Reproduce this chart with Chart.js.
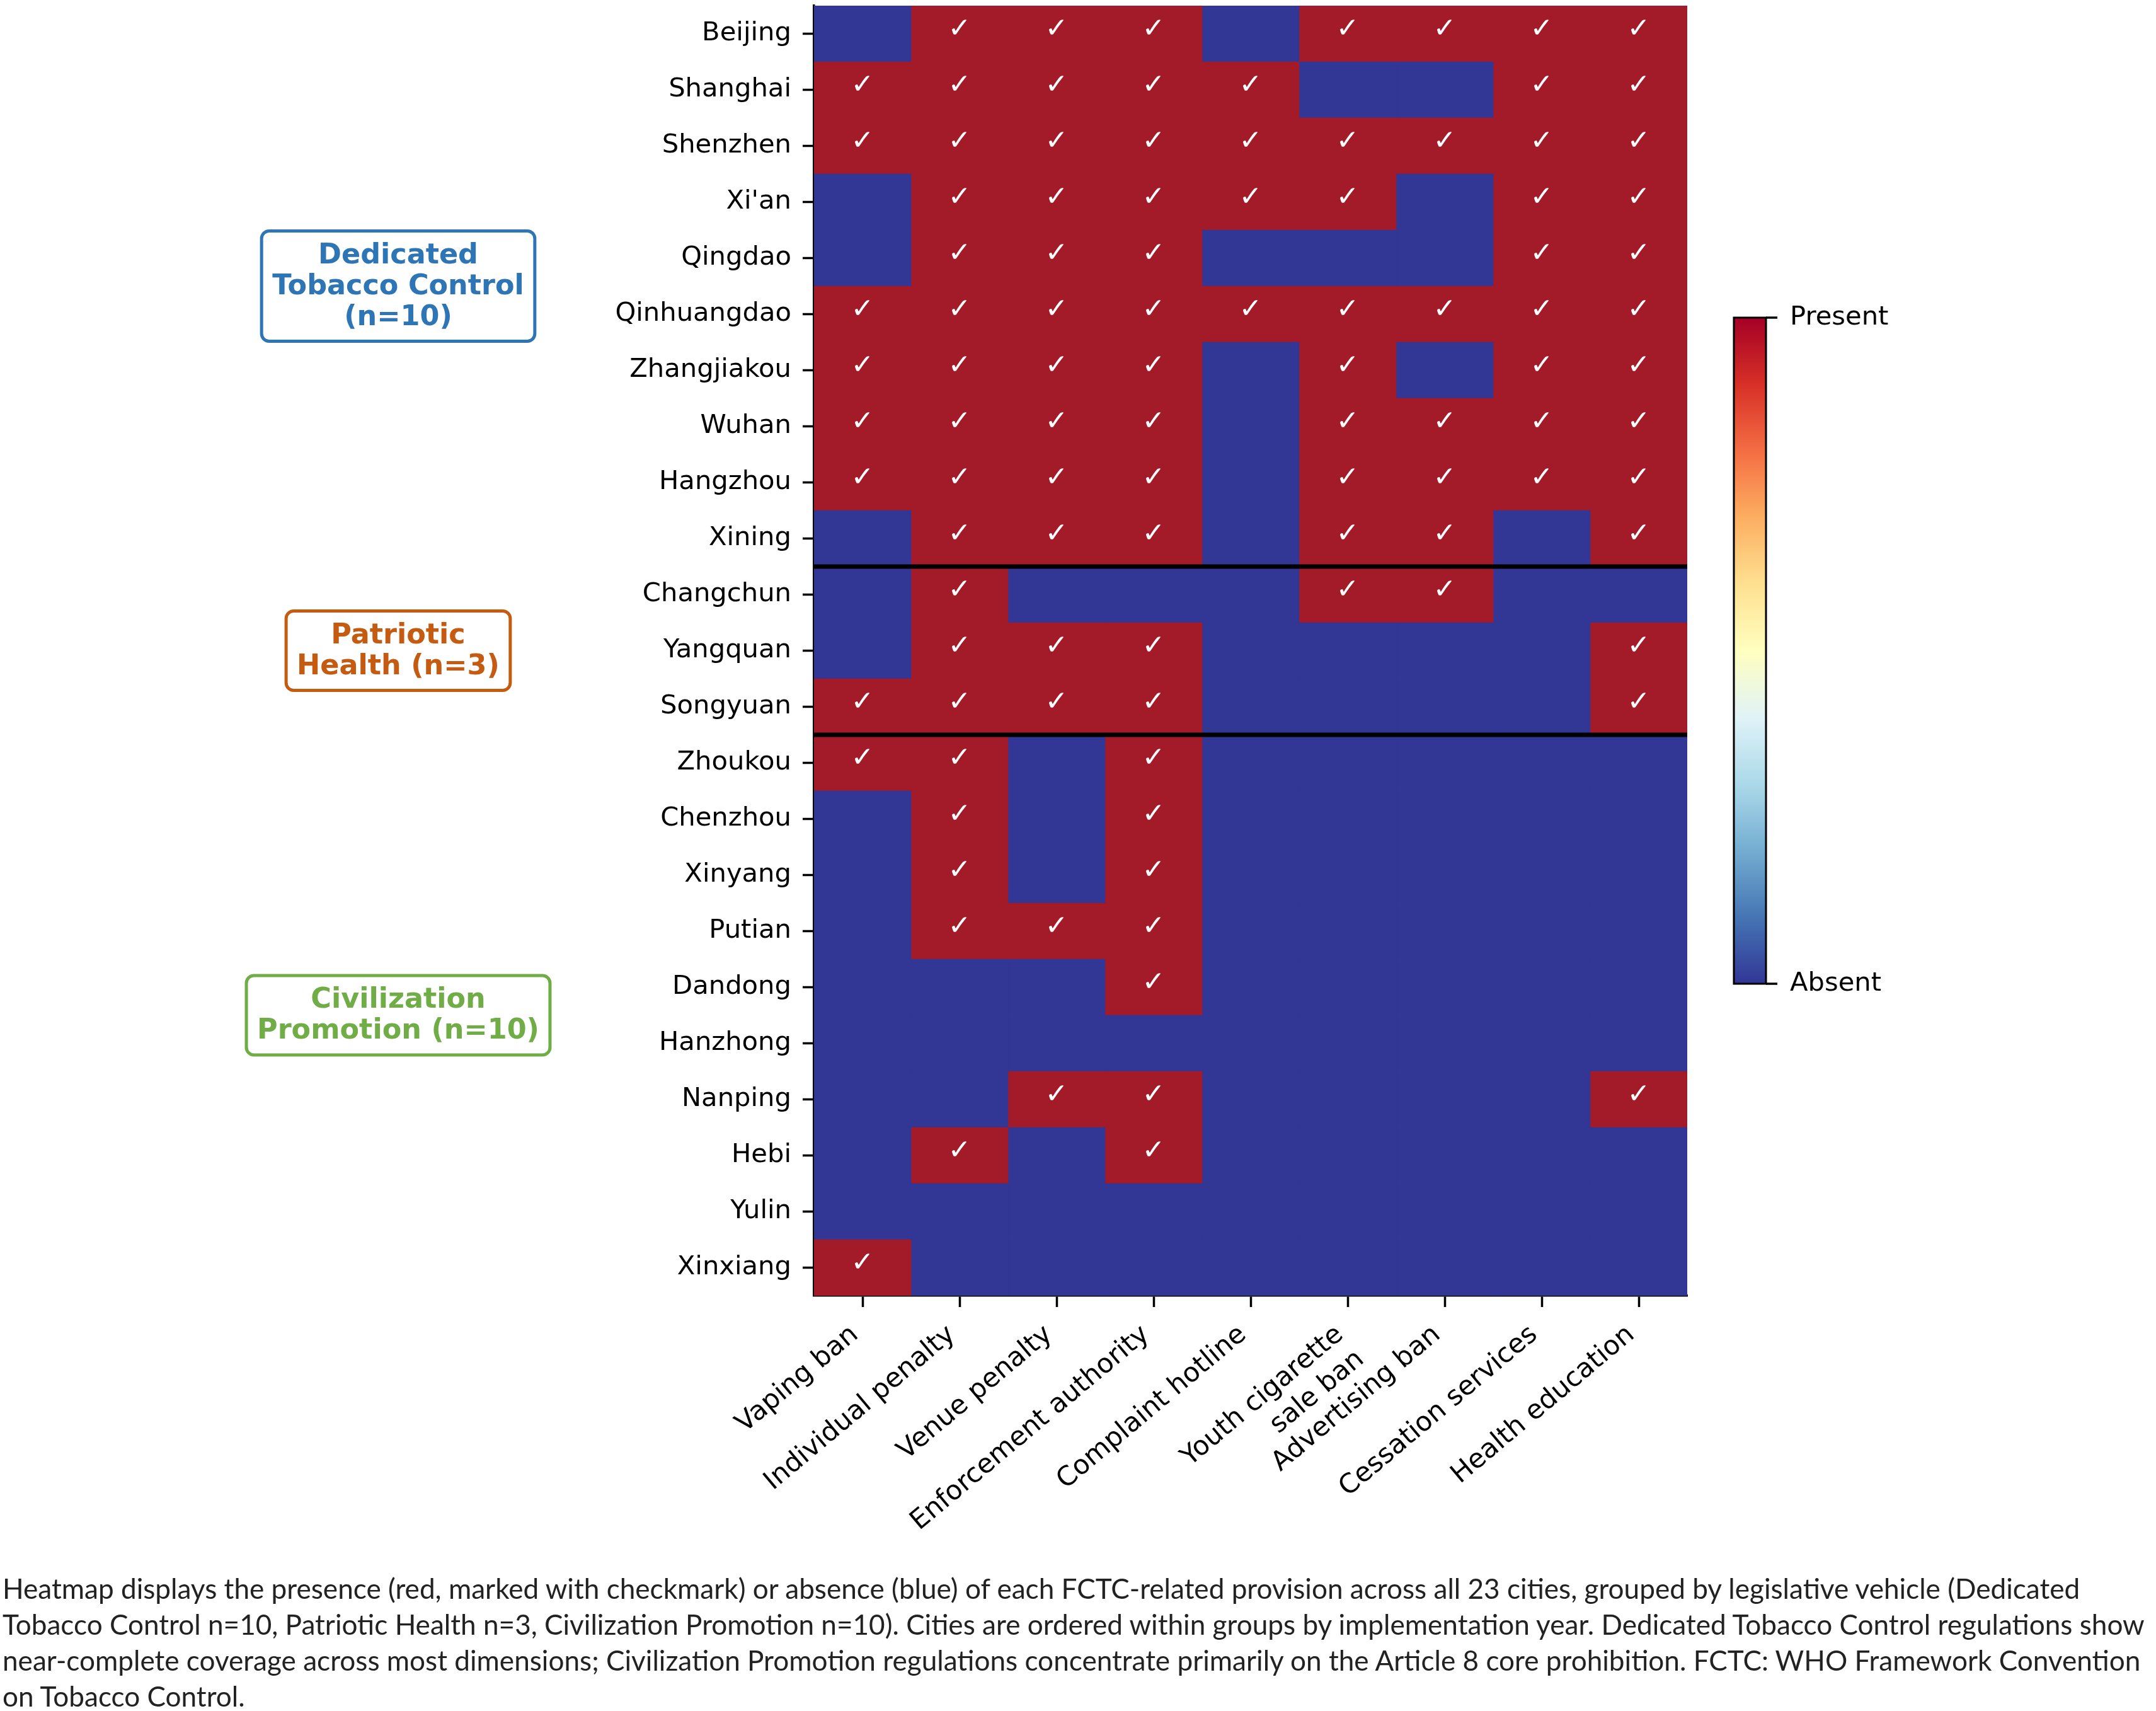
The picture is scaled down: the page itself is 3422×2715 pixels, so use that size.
<!DOCTYPE html>
<html><head><meta charset="utf-8">
<script src="https://cdn.jsdelivr.net/npm/chart.js@4.4.1/dist/chart.umd.min.js"></script>
<style>
html,body{margin:0;padding:0;background:#fff;}
#wrap{position:relative;width:3422px;height:2715px;overflow:hidden;background:#fff;}
#c{position:absolute;left:0;top:0;}
#caption{position:absolute;left:4px;top:2491px;font-family:Lato,"Noto Sans",sans-serif;color:#222;white-space:nowrap;line-height:57px;}
</style></head><body>
<div id="wrap"><canvas id="c" width="3422" height="2715"></canvas><div id="caption"></div></div>
<script>
// ---------- data ----------
const features = ['Vaping ban','Individual penalty','Venue penalty','Enforcement authority','Complaint hotline','Youth cigarette sale ban','Advertising ban','Cessation services','Health education'];
const featureLabels = ['Vaping ban','Individual penalty','Venue penalty','Enforcement authority','Complaint hotline',['Youth cigarette','sale ban'],'Advertising ban','Cessation services','Health education'];
const cities = ['Beijing','Shanghai','Shenzhen',"Xi'an",'Qingdao','Qinhuangdao','Zhangjiakou','Wuhan','Hangzhou','Xining','Changchun','Yangquan','Songyuan','Zhoukou','Chenzhou','Xinyang','Putian','Dandong','Hanzhong','Nanping','Hebi','Yulin','Xinxiang'];
// 1 = present, 0 = absent (one value per city, same order as cities)
const vapingBan            = [0,1,1,0,0,1,1,1,1,0, 0,0,1, 1,0,0,0,0,0,0,0,0,1];
const individualPenalty    = [1,1,1,1,1,1,1,1,1,1, 1,1,1, 1,1,1,1,0,0,0,1,0,0];
const venuePenalty         = [1,1,1,1,1,1,1,1,1,1, 0,1,1, 0,0,0,1,0,0,1,0,0,0];
const enforcementAuthority = [1,1,1,1,1,1,1,1,1,1, 0,1,1, 1,1,1,1,1,0,1,1,0,0];
const complaintHotline     = [0,1,1,1,0,1,0,0,0,0, 0,0,0, 0,0,0,0,0,0,0,0,0,0];
const youthSaleBan         = [1,0,1,1,0,1,1,1,1,1, 1,0,0, 0,0,0,0,0,0,0,0,0,0];
const advertisingBan       = [1,0,1,0,0,1,0,1,1,1, 1,0,0, 0,0,0,0,0,0,0,0,0,0];
const cessationServices    = [1,1,1,1,1,1,1,1,1,0, 0,0,0, 0,0,0,0,0,0,0,0,0,0];
const healthEducation      = [1,1,1,1,1,1,1,1,1,1, 0,1,1, 0,0,0,0,0,0,1,0,0,0];
const presence = [vapingBan,individualPenalty,venuePenalty,enforcementAuthority,complaintHotline,youthSaleBan,advertisingBan,cessationServices,healthEducation];

const groupNames  = [['Dedicated','Tobacco Control','(n=10)'],['Patriotic','Health (n=3)'],['Civilization','Promotion (n=10)']];
const groupStarts = [0,10,13];
const groupEnds   = [9,12,22];
const groupColors = ['#2E75B6','#C55A11','#70AD47'];
const colorbarLabels = ['Present','Absent'];
const captionLines = [
 'Heatmap displays the presence (red, marked with checkmark) or absence (blue) of each FCTC-related provision across all 23 cities, grouped by legislative vehicle (Dedicated',
 'Tobacco Control n=10, Patriotic Health n=3, Civilization Promotion n=10). Cities are ordered within groups by implementation year. Dedicated Tobacco Control regulations show',
 'near-complete coverage across most dimensions; Civilization Promotion regulations concentrate primarily on the Article 8 core prohibition. FCTC: WHO Framework Convention',
 'on Tobacco Control.'
];

// ---------- styles ----------
const RED = '#a31b29', BLUE = '#323695';
const RdYlBu_r = ['#a50026','#d73027','#f46d43','#fdae61','#fee090','#ffffbf','#e0f3f8','#abd9e9','#74add1','#4575b4','#313695'];
const TICKFONT = {family:'DejaVu Sans', size:41.7};
const XTICKFONT = {family:'DejaVu Sans', size:42.5};

// caption
(function(){
  const cap = document.getElementById('caption');
  const m = document.createElement('canvas').getContext('2d');
  m.font = '100px Lato';
  const w = m.measureText(captionLines[0]).width;
  const fs = 100 * 3302 / w;
  cap.style.fontSize = fs.toFixed(2) + 'px';
  captionLines.forEach(l => { const d = document.createElement('div'); d.textContent = l; cap.appendChild(d); });
})();

const overlay = {
  id: 'overlay',
  afterDatasetsDraw(chart) {
    const ctx = chart.ctx, ys = chart.scales.y, area = chart.chartArea;
    ctx.save();
    ctx.fillStyle = '#ffffff';
    ctx.font = '44px "DejaVu Sans"';
    ctx.textAlign = 'center'; ctx.textBaseline = 'middle';
    chart.data.datasets.forEach((ds, j) => {
      chart.getDatasetMeta(j).data.forEach((el, i) => {
        if (presence[j][i]) { const p = el.getCenterPoint(); ctx.fillText('\u2713', p.x, p.y - 6); }
      });
    });
    ctx.strokeStyle = '#000'; ctx.lineWidth = 7;
    groupStarts.slice(1).forEach(b => {
      const py = (ys.getPixelForValue(b - 1) + ys.getPixelForValue(b)) / 2;
      ctx.beginPath(); ctx.moveTo(area.left, py); ctx.lineTo(area.right, py); ctx.stroke();
    });
    ctx.restore();
  },
  afterDraw(chart) {
    const ctx = chart.ctx, ys = chart.scales.y;
    ctx.save();
    // colorbar
    const cx0 = 2752, cx1 = 2803, cy0 = 504, cy1 = 1561;
    const g = ctx.createLinearGradient(0, cy0, 0, cy1);
    RdYlBu_r.forEach((c, k) => g.addColorStop(k / (RdYlBu_r.length - 1), c));
    ctx.fillStyle = g; ctx.fillRect(cx0, cy0, cx1 - cx0, cy1 - cy0);
    ctx.strokeStyle = '#000'; ctx.lineWidth = 3; ctx.strokeRect(cx0, cy0, cx1 - cx0, cy1 - cy0);
    ctx.lineWidth = 3.5;
    [cy0, cy1].forEach(yy => { ctx.beginPath(); ctx.moveTo(cx1, yy); ctx.lineTo(cx1 + 18, yy); ctx.stroke(); });
    ctx.fillStyle = '#000'; ctx.font = '41.7px "DejaVu Sans"'; ctx.textAlign = 'left'; ctx.textBaseline = 'middle';
    ctx.fillText(colorbarLabels[0], cx1 + 38, cy0);
    ctx.fillText(colorbarLabels[1], cx1 + 38, cy1);
    // group boxes
    const fsz = 44.5, lh = 49, padX = 17, padY = 14, gx = 632;
    ctx.font = 'bold ' + fsz + 'px "DejaVu Sans"';
    ctx.textAlign = 'center';
    groupNames.forEach((lines, k) => {
      const cy = (ys.getPixelForValue(groupStarts[k]) + ys.getPixelForValue(groupEnds[k])) / 2;
      const tw = Math.max(...lines.map(l => ctx.measureText(l).width));
      const bw = tw + 2 * padX, bh = lines.length * lh + 2 * padY;
      ctx.beginPath();
      ctx.roundRect(gx - bw / 2, cy - bh / 2, bw, bh, 12);
      ctx.fillStyle = '#fff'; ctx.fill();
      ctx.lineWidth = 5; ctx.strokeStyle = groupColors[k]; ctx.stroke();
      ctx.fillStyle = groupColors[k];
      lines.forEach((l, n) => ctx.fillText(l, gx, cy - (lines.length - 1) * lh / 2 + n * lh + 1));
    });
    ctx.restore();
  }
};

new Chart(document.getElementById('c'), {
  type: 'bar',
  data: {
    labels: cities,
    datasets: features.map((f, j) => ({
      label: f,
      data: cities.map(() => [j, j + 1]),
      backgroundColor: presence[j].map(v => v ? RED : BLUE),
      grouped: false, barPercentage: 1, categoryPercentage: 1, borderWidth: 0
    }))
  },
  options: {
    indexAxis: 'y', responsive: false, animation: false, devicePixelRatio: 1,
    layout: {padding: {top: 9, right: 744, left: 0, bottom: 0}},
    plugins: {legend: {display: false}, tooltip: {enabled: false}},
    scales: {
      y: {
        type: 'category', offset: true, z: 1,
        grid: {display: true, drawOnChartArea: false, drawTicks: true, tickLength: 18, tickWidth: 3.5, tickColor: '#000', color: '#000', offset: false},
        border: {display: true, color: '#000', width: 3.5},
        ticks: {color: '#000', font: TICKFONT, padding: 18, autoSkip: false},
        afterFit(s) { s.width = 1292; s.paddingTop = 0; s.paddingBottom = 0; }
      },
      x: {
        type: 'linear', min: 0, max: 9, z: 1,
        afterBuildTicks(s) { s.ticks = features.map((_, j) => ({value: j + 0.5})); },
        grid: {display: true, drawOnChartArea: false, drawTicks: true, tickLength: 18, tickWidth: 3.5, tickColor: '#000', color: '#000'},
        border: {display: true, color: '#000', width: 3.5},
        ticks: {color: '#000', font: XTICKFONT, padding: 19, autoSkip: false, minRotation: 40, maxRotation: 40, labelOffset: -12,
                callback: (v, i) => featureLabels[i]},
        afterFit(s) { s.height = 659; s.paddingLeft = 0; s.paddingRight = 0; }
      }
    }
  },
  plugins: [overlay]
});
</script>
</body></html>
